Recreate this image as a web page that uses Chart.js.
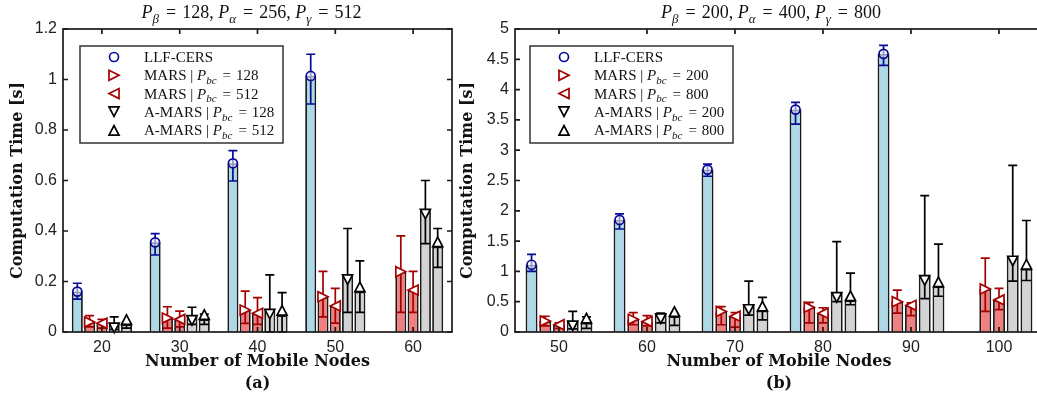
<!DOCTYPE html>
<html>
<head>
<meta charset="utf-8">
<script src="https://cdn.jsdelivr.net/npm/chart.js@4/dist/chart.umd.min.js"></script>
<style>
  html, body { margin: 0; padding: 0; background: #fff; overflow: hidden; width: 1037px; height: 398px; }
  canvas { position: absolute; top: 0; }
</style>
</head>
<body>
<canvas id="chartA" width="460" height="398" style="left:0"></canvas>
<canvas id="chartB" width="600" height="398" style="left:455px"></canvas>
<script>
// ---- data, chart (a) ----
var nodesA = ['20', '30', '40', '50', '60'];
var namesA = ['LLF-CERS', 'MARS | P_bc = 128', 'MARS | P_bc = 512', 'A-MARS | P_bc = 128', 'A-MARS | P_bc = 512'];
var llfA      = [0.16, 0.355, 0.668, 1.014, null];
var llfA_lo   = [0.13, 0.305, 0.598, 0.903, null];
var llfA_hi   = [0.193, 0.39, 0.718, 1.10, null];
var mars1A    = [0.04, 0.055, 0.087, 0.14, 0.239];
var mars1A_lo = [0.02, 0.015, 0.034, 0.06, 0.078];
var mars1A_hi = [0.065, 0.10, 0.162, 0.24, 0.381];
var mars2A    = [0.035, 0.05, 0.074, 0.103, 0.166];
var mars2A_lo = [0.015, 0.02, 0.03, 0.035, 0.078];
var mars2A_hi = [0.05, 0.083, 0.136, 0.173, 0.24];
var amars1A    = [0.035, 0.065, 0.09, 0.226, 0.486];
var amars1A_lo = [0.01, 0.03, 0.0, 0.078, 0.35];
var amars1A_hi = [0.06, 0.098, 0.226, 0.41, 0.60];
var amars2A    = [0.03, 0.05, 0.067, 0.16, 0.338];
var amars2A_lo = [0.015, 0.03, 0.0, 0.078, 0.256];
var amars2A_hi = [0.04, 0.071, 0.156, 0.282, 0.41];

// ---- data, chart (b) ----
var nodesB = ['50', '60', '70', '80', '90', '100'];
var namesB = ['LLF-CERS', 'MARS | P_bc = 200', 'MARS | P_bc = 800', 'A-MARS | P_bc = 200', 'A-MARS | P_bc = 800'];
var llfB      = [1.11, 1.85, 2.68, 3.67, 4.59, null];
var llfB_lo   = [1.0, 1.70, 2.57, 3.43, 4.40, null];
var llfB_hi   = [1.28, 1.95, 2.77, 3.79, 4.73, null];
var mars1B    = [0.18, 0.21, 0.34, 0.41, 0.50, 0.71];
var mars1B_lo = [0.1, 0.12, 0.12, 0.15, 0.31, 0.34];
var mars1B_hi = [0.26, 0.32, 0.42, 0.49, 0.69, 1.22];
var mars2B    = [0.12, 0.175, 0.26, 0.31, 0.44, 0.53];
var mars2B_lo = [0.06, 0.1, 0.08, 0.15, 0.27, 0.37];
var mars2B_hi = [0.15, 0.27, 0.32, 0.40, 0.48, 0.72];
var amars1B    = [0.18, 0.30, 0.45, 0.65, 0.93, 1.25];
var amars1B_lo = [0.05, 0.15, 0.28, 0.5, 0.55, 0.84];
var amars1B_hi = [0.34, 0.31, 0.84, 1.49, 2.25, 2.75];
var amars2B    = [0.15, 0.26, 0.35, 0.52, 0.75, 1.04];
var amars2B_lo = [0.06, 0.11, 0.2, 0.45, 0.59, 0.85];
var amars2B_hi = [0.25, 0.29, 0.57, 0.97, 1.45, 1.84];

var titleA = 'P_β = 128, P_α = 256, P_γ = 512';
var titleB = 'P_β = 200, P_α = 400, P_γ = 800';

var SANS = '"Liberation Sans", Arial, sans-serif';
var SERIF = '"Liberation Serif", "Times New Roman", serif';
var BOLDSERIF = '"DejaVu Serif", serif';

// look of each series: fill, error bar colour, marker
var looks = [
  { fill: '#ADD8E6', err: '#0a0a96', marker: 'circle', stroke: '#0a0a96' },
  { fill: '#F08080', err: '#a30000', marker: 'right', stroke: '#a30000' },
  { fill: '#F08080', err: '#a30000', marker: 'left', stroke: '#a30000' },
  { fill: '#D3D3D3', err: '#000', marker: 'down', stroke: '#000' },
  { fill: '#D3D3D3', err: '#000', marker: 'up', stroke: '#000' }
];

// "MARS | P_bc = 128" -> pieces with italic P and subscript
function parseRich(s) {
  var parts = [], re = /P_(\S+)/g, last = 0, m;
  while ((m = re.exec(s)) !== null) {
    if (m.index > last) parts.push([s.slice(last, m.index), 'n']);
    parts.push(['P', 'i']);
    parts.push([m[1], 'sub']);
    last = re.lastIndex;
  }
  if (last < s.length) parts.push([s.slice(last), 'n']);
  return parts;
}

function richFont(kind, size) {
  if (kind == 'i') return 'italic ' + size + 'px ' + SERIF;
  if (kind == 'sub') return 'italic ' + Math.round(size * 0.7) + 'px ' + SERIF;
  return size + 'px ' + SERIF;
}

// eqSpace: wider gap round "=" like TeX math spacing
function drawRich(ctx, s, x, y, size, align, eqSpace) {
  var parts = parseRich(s.split(' = ').join(eqSpace + '=' + eqSpace));
  var w = 0;
  parts.forEach(function (p) {
    ctx.font = richFont(p[1], size);
    p.w = ctx.measureText(p[0]).width + (p[1] == 'sub' ? 1 : 0);
    w += p.w;
  });
  var cx = align == 'center' ? x - w / 2 : x;
  ctx.textAlign = 'left';
  ctx.textBaseline = 'alphabetic';
  parts.forEach(function (p) {
    ctx.font = richFont(p[1], size);
    ctx.fillText(p[0], cx, p[1] == 'sub' ? y + size * 0.25 : y);
    cx += p.w;
  });
}

function drawMarker(ctx, type, x, y, stroke, fill, centered) {
  ctx.save();
  ctx.lineWidth = 1.7;
  ctx.strokeStyle = stroke;
  ctx.fillStyle = fill;
  ctx.beginPath();
  var r = 5;
  if (type == 'circle') {
    ctx.arc(x, y, 4.5, 0, Math.PI * 2);
  } else if (type == 'right') {
    ctx.moveTo(x + r, y); ctx.lineTo(x - r, y - r); ctx.lineTo(x - r, y + r);
  } else if (type == 'left') {
    ctx.moveTo(x - r, y); ctx.lineTo(x + r, y - r); ctx.lineTo(x + r, y + r);
  } else if (type == 'down') {
    var t = centered ? y - r : y;
    ctx.moveTo(x - r, t); ctx.lineTo(x + r, t); ctx.lineTo(x, t + 2 * r * 0.95);
  } else if (type == 'up') {
    var b = centered ? y + r : y;
    ctx.moveTo(x - r, b); ctx.lineTo(x + r, b); ctx.lineTo(x, b - 2 * r * 0.95);
  }
  ctx.closePath();
  ctx.fill();
  ctx.stroke();
  ctx.restore();
}

// error bars and markers on top of the bars
var errorBarPlugin = {
  id: 'errorBarPlugin',
  afterDatasetsDraw: function (chart) {
    var ctx = chart.ctx, ys = chart.scales.y;
    var sets = chart.data.datasets;
    sets.forEach(function (ds, i) {
      chart.getDatasetMeta(i).data.forEach(function (bar, j) {
        if (ds.data[j] == null) return;
        var yl = ys.getPixelForValue(ds.lo[j]), yh = ys.getPixelForValue(ds.hi[j]);
        ctx.save();
        ctx.strokeStyle = looks[i].err;
        ctx.lineWidth = 1.7;
        ctx.beginPath();
        ctx.moveTo(bar.x, yl); ctx.lineTo(bar.x, yh);
        ctx.moveTo(bar.x - 4.5, yl); ctx.lineTo(bar.x + 4.5, yl);
        ctx.moveTo(bar.x - 4.5, yh); ctx.lineTo(bar.x + 4.5, yh);
        ctx.stroke();
        ctx.restore();
      });
    });
    sets.forEach(function (ds, i) {
      chart.getDatasetMeta(i).data.forEach(function (bar, j) {
        if (ds.data[j] == null) return;
        var lk = looks[i];
        var fill = lk.marker == 'circle' ? 'rgba(235,242,248,0.6)' : '#fff';
        drawMarker(ctx, lk.marker, bar.x, ys.getPixelForValue(ds.data[j]), lk.stroke, fill, false);
      });
    });
  }
};

// box round the axes, inward ticks, legend and all captions
var framePlugin = {
  id: 'framePlugin',
  afterDraw: function (chart) {
    var o = chart.options.plugins.framePlugin;
    var ctx = chart.ctx, a = chart.chartArea, xs = chart.scales.x, ys = chart.scales.y;
    ctx.save();
    ctx.strokeStyle = '#1a1a1a';
    ctx.lineWidth = 1.7;
    ctx.strokeRect(a.left, a.top, a.right - a.left, a.bottom - a.top);
    ctx.beginPath();
    xs.ticks.forEach(function (t, i) {
      var px = xs.getPixelForTick(i);
      ctx.moveTo(px, a.bottom); ctx.lineTo(px, a.bottom - 5);
      ctx.moveTo(px, a.top); ctx.lineTo(px, a.top + 5);
    });
    ys.ticks.forEach(function (t) {
      var py = ys.getPixelForValue(t.value);
      ctx.moveTo(a.left, py); ctx.lineTo(a.left + 5, py);
      ctx.moveTo(a.right, py); ctx.lineTo(a.right - 5, py);
    });
    ctx.stroke();

    // legend
    var lx = a.left + o.legendDx, ly = 46, lw = 203, lh = 97;
    ctx.fillStyle = '#fff';
    ctx.fillRect(lx, ly, lw, lh);
    ctx.strokeStyle = '#333';
    ctx.lineWidth = 1.5;
    ctx.strokeRect(lx, ly, lw, lh);
    o.names.forEach(function (nm, i) {
      var ry = ly + 11 + i * 18.3;
      drawMarker(ctx, looks[i].marker, lx + 34, ry, looks[i].stroke, '#fff', true);
      ctx.fillStyle = '#111';
      drawRich(ctx, nm, lx + 64, ry + 5, 15, 'left', '\u2004');
    });

    // title
    ctx.fillStyle = '#111';
    drawRich(ctx, o.title, (a.left + a.right) / 2 + o.titleDx, 18, 18, 'center', '\u2004');

    // axis titles
    ctx.fillStyle = '#111';
    ctx.font = 'bold 16px ' + BOLDSERIF;
    ctx.textAlign = 'center';
    ctx.textBaseline = 'middle';
    ctx.fillText('Number of Mobile Nodes', (a.left + a.right) / 2, 362);
    ctx.fillText(o.caption, (a.left + a.right) / 2, 384);
    ctx.translate(o.yTitleX, (a.top + a.bottom) / 2);
    ctx.rotate(-Math.PI / 2);
    ctx.fillText('Computation Time [s]', 0, 0);
    ctx.restore();
  }
};

function buildSets(vals, lows, highs) {
  return vals.map(function (v, i) {
    return {
      data: v,
      lo: lows[i],
      hi: highs[i],
      backgroundColor: looks[i].fill,
      borderColor: '#1a1a1a',
      borderWidth: 1.8
    };
  });
}

function makeChart(id, cats, sets, ymax, ystep, pad, yWidth, cp, bp, extra) {
  return new Chart(document.getElementById(id).getContext('2d'), {
    type: 'bar',
    data: { labels: cats, datasets: sets },
    options: {
      responsive: false,
      animation: false,
      devicePixelRatio: 1,
      categoryPercentage: cp,
      barPercentage: bp,
      layout: { padding: pad },
      scales: {
        x: {
          type: 'category',
          offset: true,
          grid: { display: false, drawTicks: false },
          border: { display: false },
          ticks: { color: '#222', padding: 6, font: { family: SANS, size: 16 } },
          afterFit: function (s) { s.height = 66; }
        },
        y: {
          min: 0,
          max: ymax,
          grid: { display: false, drawTicks: false },
          border: { display: false },
          ticks: {
            stepSize: ystep,
            color: '#222',
            padding: 6,
            font: { family: SANS, size: 16 },
            callback: function (v) { return String(+v.toFixed(2)); }
          },
          afterFit: function (s) { s.width = yWidth; }
        }
      },
      plugins: {
        legend: { display: false },
        tooltip: { enabled: false },
        framePlugin: extra
      }
    },
    plugins: [errorBarPlugin, framePlugin]
  });
}

document.addEventListener('DOMContentLoaded', function () {
  var setsA = buildSets([llfA, mars1A, mars2A, amars1A, amars2A],
    [llfA_lo, mars1A_lo, mars2A_lo, amars1A_lo, amars2A_lo],
    [llfA_hi, mars1A_hi, mars2A_hi, amars1A_hi, amars2A_hi]);
  var setsB = buildSets([llfB, mars1B, mars2B, amars1B, amars2B],
    [llfB_lo, mars1B_lo, mars2B_lo, amars1B_lo, amars2B_lo],
    [llfB_hi, mars1B_hi, mars2B_hi, amars1B_hi, amars2B_hi]);

  makeChart('chartA', nodesA, setsA, 1.2, 0.2, { top: 29, right: 8, left: 0, bottom: 0 }, 63, 0.79, 0.9,
    { names: namesA, title: titleA, caption: '(a)', yTitleX: 18, legendDx: 17, titleDx: -6 });
  makeChart('chartB', nodesB, setsB, 5, 0.5, { top: 29, right: 12, left: 0, bottom: 0 }, 60, 0.78, 0.87,
    { names: namesB, title: titleB, caption: '(b)', yTitleX: 13, legendDx: 15, titleDx: -8 });
});
</script>
</body>
</html>
